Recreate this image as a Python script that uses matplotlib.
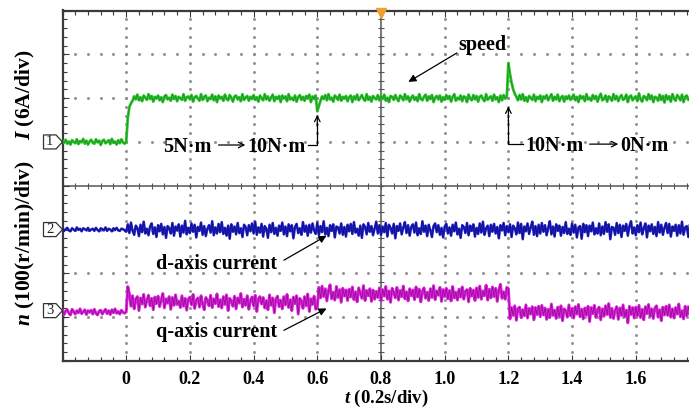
import numpy as np
import matplotlib
matplotlib.use("Agg")
import matplotlib.pyplot as plt
from matplotlib.patches import Polygon

plt.rcParams["font.family"] = ["Liberation Serif", "DejaVu Serif"]
plt.rcParams["mathtext.fontset"] = "custom"
plt.rcParams["mathtext.it"] = "Liberation Serif:italic:bold"
plt.rcParams["mathtext.rm"] = "Liberation Serif:bold"

# ---- scope record: 5 ms per sample, vertical unit = 1 division ----
t_start = -0.2
sample_step = 0.005

# channel 1: speed (segment boundaries and levels)
speed_breaks = [0.0]
speed_levels = [1.0, 2.0]
speed_dev = [  # hundredths of a division, one row = 0.1 s
    3, -2, 5, -4, 1, -6, 4, 0, -3, 6, -5, 2, -1, 7, -4, 3, -6, 1, 5, -2,
    -4, 6, -1, 3, -7, 2, 5, -3, 0, 4, -5, 7, -2, 1, -6, 4, -3, 6, -1, -4,
    0, -45, -20, -12, -6, 4, -3, 8, -5, 2, -7, 6, 1, -4, 9, -2, 5, -8, 3, -1,
    6, -5, 2, -9, 4, 7, -3, 1, -6, 8, -2, 5, -7, 3, 0, -4, 9, -6, 2, 4,
    -3, 7, -8, 2, 5, -1, -6, 9, -4, 3, 6, -7, 1, -2, 8, -5, 4, -9, 6, -1,
    3, -6, 8, -2, -5, 7, 1, -8, 4, 6, -3, 2, -7, 9, -4, 1, 5, -6, 3, -2,
    7, -4, 2, -8, 6, 0, -5, 9, -3, 4, -6, 1, 8, -7, 3, -2, 5, -9, 6, -1,
    4, -7, 9, -3, 1, -5, 6, -8, 2, 7, -4, 3, -6, 5, -1, 8, -9, 4, -2, 6,
    -30, -18, -6, 4, -2, 7, -5, 9, -3, 1, -8, 6, 2, -4, 8, -6, 3, -1, 5, -7,
    2, 6, -9, 4, -3, 8, -5, 1, 7, -2, -6, 9, -4, 3, -8, 5, 0, -3, 7, -5,
    4, -2, 8, -6, 1, -9, 5, 3, -4, 7, -1, -7, 6, 2, -5, 9, -3, 4, -8, 1,
    6, -4, 2, -7, 9, -1, -5, 3, 8, -6, 4, -2, 7, -9, 1, 5, -3, 6, -8, 2,
    -4, 7, -2, 5, -8, 3, 9, -6, 1, -3, 6, -7, 4, 2, -9, 8, -1, -5, 7, -3,
    5, -8, 3, 6, -2, -7, 9, -4, 1, 4, -6, 8, -3, 2, -9, 6, -5, 7, -1, 3,
    80, 55, 35, 20, 10, 3, -5, 7, -3, 9, -6, 2, -8, 5, 1, -4, 8, -7, 3, -2,
    6, -9, 4, -1, 7, -5, 2, 9, -6, 3, -3, 8, -7, 1, 5, -8, 4, -2, 6, -4,
    2, 8, -5, 3, -9, 6, -1, 4, -7, 9, -3, 1, -6, 7, -2, 5, -8, 3, 10, -5,
    -2, 6, -8, 4, 1, -6, 9, -3, 5, -7, 2, 7, -4, -1, 8, -9, 3, 6, -5, 1,
    4, -7, 11, -3, -8, 5, 2, -5, 9, -2, 6, -9, 3, 1, -6, 8, -4, 5, -10, 7,
    -3, 4, -8, 9, -1, -6, 7, 2, -5, 8, -9, 3, 6, -4, 1, -7, 9, -2, 4, -6,
]

# channel 2: d-axis current
id_breaks = []
id_levels = [-1.0]
id_dev = [
    2, -3, 1, 4, -2, -4, 3, 0, -3, 5, -1, 2, -4, 3, 1, -2, 4, -3, 0, 2,
    -3, 4, -1, -4, 3, 1, -2, 5, -3, 2, 0, -4, 3, -1, 4, -2, -3, 2, 1, -2,
    -5, 12, -8, 16, -3, -12, 9, 4, -15, 11, -6, 18, -9, 2, -13, 7, 14, -10, 5, -17,
    10, -4, 13, -11, 6, -19, 8, 3, -9, 15, -14, 7, -2, 12, -16, 9, -7, 20, -11, 4,
    -8, 14, -5, 11, -18, 6, -3, 16, -12, 8, -15, 2, 10, -7, 19, -13, 5, -9, 13, -6,
    17, -10, 4, -14, 9, -21, 12, -5, 7, -11, 15, -8, 3, -17, 11, 6, -13, 10, -4, 14,
    -9, 18, -12, 5, -7, 13, -16, 8, 2, -19, 11, -6, 15, -10, 4, -14, 9, -3, 16, -11,
    7, -15, 12, -4, 10, -20, 6, 13, -8, 3, -12, 17, -5, 9, -14, 11, -7, 14, -2, -10,
    16, -13, 8, -6, 19, -11, 4, -15, 10, -3, 12, -18, 7, 5, -9, 14, -12, 6, -16, 11,
    -4, 13, -10, 17, -7, 2, -14, 9, -19, 12, 6, -11, 15, -5, 8, -13, 3, 18, -9, 10,
    -12, 7, -6, 15, -16, 11, 4, -9, 13, -20, 8, -3, 14, -11, 5, 17, -8, 10, -14, 6,
    12, -7, 16, -13, 3, -10, 19, -5, 9, -15, 11, -2, -17, 8, 14, -6, 10, -12, 4, -18,
    7, 13, -9, 5, -14, 11, -4, 16, -11, 2, -19, 10, 6, -8, 15, -13, 9, -3, 12, -16,
    4, -10, 14, -7, 18, -12, 3, 9, -15, 11, -5, 13, -9, 6, -20, 10, -2, 15, -13, 8,
    -6, 12, -17, 9, 3, -11, 16, -8, 13, -22, 7, -4, 14, -10, 5, 18, -12, 8, -15, 11,
    -9, 15, -5, 10, -13, 4, 19, -11, 7, -16, 12, -3, 9, -14, 6, -8, 17, -10, 2, -12,
    14, -7, 11, -18, 5, 8, -21, 13, -6, 10, -15, 9, -4, 16, -11, 3, -9, 14, -13, 7,
    -10, 17, -5, 12, -22, 6, 4, -12, 15, -8, 11, -17, 9, -3, 13, -14, 8, 19, -9, 5,
    -13, 10, -6, 16, -11, 3, 14, -18, 9, -4, 12, -10, 6, -15, 17, -7, 11, -12, 4, 15,
    -8, 13, -16, 7, -3, 11, -14, 10, -9, 18, -12, 5, 8, -17, 12, -6, 14, -10, 3, -11,
]

# channel 3: q-axis current
iq_breaks = [0.0, 0.6, 1.2]
iq_levels = [-2.88, -2.65, -2.47, -2.88]
iq_dev = [
    4, -6, 2, 5, -3, -7, 6, 1, -5, 3, -2, 7, -4, 0, 5, -6, 3, -1, 4, -5,
    6, -3, -7, 2, 4, -5, 1, 6, -4, 3, -6, 5, -2, 7, -3, 1, -5, 4, -1, -3,
    0, 35, 18, -10, 14, -16, 6, 12, -20, 9, -5, 17, -12, 3, 15, -9, 8, -18, 11, -4,
    13, -11, 5, 19, -14, 7, -3, 12, -17, 10, -8, 16, -6, 2, -13, 14, -10, 8, -19, 6,
    11, -7, 17, -15, 4, 9, -12, 14, -5, -18, 10, 3, -9, 15, -13, 7, -4, 18, -11, 5,
    -14, 12, -6, 16, -20, 8, 2, -10, 13, -16, 9, -3, 19, -12, 6, -8, 14, -17, 4, 11,
    -9, 15, -22, 7, 12, -5, 10, -14, 3, -18, 16, -8, 9, -25, 6, 13, -11, 4, -16, 12,
    -7, 17, -13, 5, -20, 11, -4, 14, -28, 8, 2, -15, 12, -9, 18, -22, 7, -6, 13, -17,
    -12, 15, -9, 18, -6, 12, -16, 8, 21, -11, 4, -14, 17, -8, 10, -19, 13, -5, 9, -15,
    11, -7, 16, -13, 5, -18, 14, 2, -10, 19, -15, 8, -4, 12, -17, 9, -12, 6, -8, 14,
    -16, 10, -5, 17, -12, 7, -19, 13, 3, -9, 15, -14, 8, -6, 18, -11, 5, -16, 12, -4,
    9, -13, 16, -7, 11, -18, 6, 14, -10, 4, -15, 12, -8, 19, -13, 7, -3, 15, -17, 10,
    -6, 13, -11, 8, -16, 17, -9, 4, -14, 11, -7, 16, -12, 6, 10, -18, 13, -5, 9, -15,
    14, -8, 18, -12, 7, -4, 20, -14, 11, -9, 16, -6, 13, -17, 9, 22, -10, 5, -12, 15,
    12, -16, 10, -8, 14, -19, 7, 11, -13, 5, -9, 16, -14, 8, -5, 12, -18, 10, -6, 13,
    -11, 15, -7, 9, -17, 6, -13, 18, -8, 4, -15, 11, -10, 14, -20, 7, 3, -12, 16, -9,
    8, -14, 12, -5, 17, -11, 6, -16, 9, -7, 13, -22, 10, -4, 15, -13, 5, 11, -18, 7,
    -10, 14, -6, 19, -12, 8, -15, 3, 12, -17, 9, -8, 16, -11, 4, -25, 13, -6, 10, -14,
    11, -9, 15, -13, 6, -18, 12, -4, 17, -10, 7, -15, 9, 14, -12, 5, -20, 11, -7, 13,
    -8, 16, -12, 7, -14, 10, -5, 18, -11, 3, -16, 13, -9, 12, -6, 15, -13, 8, -10, 11,
]

channel_marks = [("1", 1.0), ("2", -1.0), ("3", -2.85)]
tick_values = [0.0, 0.2, 0.4, 0.6, 0.8, 1.0, 1.2, 1.4, 1.6]
tick_labels = ["0", "0.2", "0.4", "0.6", "0.8", "1.0", "1.2", "1.4", "1.6"]


def trace(breaks, levels, dev):
    tt = np.round(np.arange(len(dev)) * sample_step + t_start, 3)
    idx = np.searchsorted(np.asarray(breaks, dtype=float), tt, side="left")
    return tt, np.asarray(levels)[idx] + np.asarray(dev) / 100.0


t1, speed = trace(speed_breaks, speed_levels, speed_dev)
t2, i_d = trace(id_breaks, id_levels, id_dev)
t3, i_q = trace(iq_breaks, iq_levels, iq_dev)

# ---- figure ----
W, H = 689, 409
fig = plt.figure(figsize=(W / 100, H / 100), dpi=100)
left_px, right_px, top_px, bot_px = 62.5, 699.5, 10.5, 361.0
ax = fig.add_axes([left_px / W, 1 - bot_px / H, (right_px - left_px) / W, (bot_px - top_px) / H])
ax.set_xlim(-0.2, 1.8)
ax.set_ylim(-4, 4)

frame_c = "#3a3a3a"
for s in ax.spines.values():
    s.set_color(frame_c)
    s.set_linewidth(1.6)

# dotted graticule
grid_c = "#909090"
xdots = np.arange(-0.2, 1.8001, 0.04)
ydots = np.arange(-4, 4.001, 0.2)
for gx in np.arange(-0.2, 1.8001, 0.2):
    if abs(gx - 0.8) < 1e-6 or abs(gx + 0.2) < 1e-6:
        continue
    ax.plot(np.full_like(ydots, gx), ydots, ls="none", marker="s", ms=1.0,
            color=grid_c, zorder=1)
for gy in range(-3, 4):
    if gy == 0:
        continue
    ax.plot(xdots, np.full_like(xdots, gy), ls="none", marker="s", ms=1.0,
            color=grid_c, zorder=1)

# centre cross with small ticks
cross_c = "#555555"
ax.axhline(0, color=cross_c, lw=1.1, zorder=1)
ax.axvline(0.8, color=cross_c, lw=1.1, zorder=1)
ax.plot(xdots, np.zeros_like(xdots), ls="none", marker="|", ms=5, mew=0.8,
        color=cross_c, zorder=1)
ax.plot(np.full_like(ydots, 0.8), ydots, ls="none", marker="_", ms=5, mew=0.8,
        color=cross_c, zorder=1)

# edge ticks
ax.set_xticks(tick_values)
ax.set_xticklabels(tick_labels, fontsize=13, fontweight="bold")
ax.set_xticks(xdots, minor=True)
ax.set_yticks(np.arange(-4, 5, 1))
ax.set_yticks(ydots, minor=True)
ax.set_yticklabels([])
ax.tick_params(which="both", direction="in", top=True, right=True,
               color=frame_c, width=0.8)
ax.tick_params(which="major", length=4, pad=7)
ax.tick_params(which="minor", length=3)

# traces
ax.plot(t1, speed, color="#2cc42c", lw=2.0, zorder=3)
ax.plot(t1, speed, color="#12801a", lw=0.5, alpha=0.8, zorder=3)
ax.plot(t2, i_d, color="#2020c8", lw=1.8, zorder=3)
ax.plot(t2, i_d, color="#08086e", lw=0.5, alpha=0.8, zorder=3)
ax.plot(t3, i_q, color="#e020e0", lw=2.1, zorder=3)
ax.plot(t3, i_q, color="#700a70", lw=0.5, alpha=0.8, zorder=3)

# trigger marker
ax.plot(0.8, 3.95, marker="v", ms=7, color="#f0a030", clip_on=False, zorder=5)

# channel reference markers
ytr = ax.get_yaxis_transform()
for name, lvl in channel_marks:
    w_tip = 6.5 / (right_px - left_px)
    w_box = 19.0 / (right_px - left_px)
    hh = 7.0 / 43.75
    poly = Polygon([(-w_box, lvl - hh), (-w_tip, lvl - hh), (0, lvl),
                    (-w_tip, lvl + hh), (-w_box, lvl + hh)], closed=True,
                   transform=ytr, facecolor="white", edgecolor="#333333",
                   lw=0.9, clip_on=False, zorder=5)
    ax.add_patch(poly)
    ax.text(-(w_box + w_tip) / 2, lvl, name, transform=ytr, ha="center",
            va="center", fontsize=10.5, color="#222222", zorder=6)

# annotations
bold = dict(fontsize=14.5, fontweight="bold", color="black", zorder=6)
ax.text(1.042, 3.10, "speed", ha="left", va="baseline", **bold)
ax.annotate("", xy=(0.886, 2.37), xytext=(1.038, 3.03),
            arrowprops=dict(arrowstyle="-|>", lw=0.9, color="black",
                            mutation_scale=11, shrinkA=0, shrinkB=0))

ax.text(0.116, 0.78, "5N\u00b7m", ha="left", va="baseline", **bold)
ax.annotate("", xy=(0.374, 0.93), xytext=(0.290, 0.93),
            arrowprops=dict(arrowstyle="->", lw=0.9, color="black",
                            mutation_scale=10, shrinkA=0, shrinkB=0))
ax.text(0.379, 0.78, "10N\u00b7m", ha="left", va="baseline", **bold)
ax.plot([0.572, 0.6, 0.6], [0.93, 0.93, 1.4], color="black", lw=0.9, zorder=6)
ax.annotate("", xy=(0.6, 1.62), xytext=(0.6, 1.35),
            arrowprops=dict(arrowstyle="->", lw=0.9, color="black",
                            mutation_scale=10, shrinkA=0, shrinkB=0))

ax.plot([1.245, 1.2, 1.2], [0.95, 0.95, 1.5], color="black", lw=0.9, zorder=6)
ax.annotate("", xy=(1.2, 1.81), xytext=(1.2, 1.45),
            arrowprops=dict(arrowstyle="->", lw=0.9, color="black",
                            mutation_scale=10, shrinkA=0, shrinkB=0))
ax.text(1.252, 0.80, "10N\u00b7m", ha="left", va="baseline", **bold)
ax.annotate("", xy=(1.545, 0.95), xytext=(1.455, 0.95),
            arrowprops=dict(arrowstyle="->", lw=0.9, color="black",
                            mutation_scale=10, shrinkA=0, shrinkB=0))
ax.text(1.552, 0.80, "0N\u00b7m", ha="left", va="baseline", **bold)

ax.text(0.094, -1.89, "d-axis current", ha="left", va="baseline", **bold)
ax.annotate("", xy=(0.629, -1.14), xytext=(0.495, -1.70),
            arrowprops=dict(arrowstyle="-|>", lw=0.9, color="black",
                            mutation_scale=11, shrinkA=0, shrinkB=0))
ax.text(0.094, -3.45, "q-axis current", ha="left", va="baseline", **bold)
ax.annotate("", xy=(0.629, -2.80), xytext=(0.495, -3.30),
            arrowprops=dict(arrowstyle="-|>", lw=0.9, color="black",
                            mutation_scale=11, shrinkA=0, shrinkB=0))

# axis titles
fig.text(386 / W, 1 - 398 / H, r"$t$ (0.2s/div)", ha="center", va="center",
         fontsize=13.5, fontweight="bold")
fig.text(25 / W, 1 - 95 / H, r"$I$ (6A/div)", ha="center", va="center",
         rotation=90, fontsize=15.5, fontweight="bold")
fig.text(25 / W, 1 - 243 / H, r"$n$ (100(r/min)/div)", ha="center",
         va="center", rotation=90, fontsize=15.5, fontweight="bold")

fig.savefig("out.png", dpi=100)
